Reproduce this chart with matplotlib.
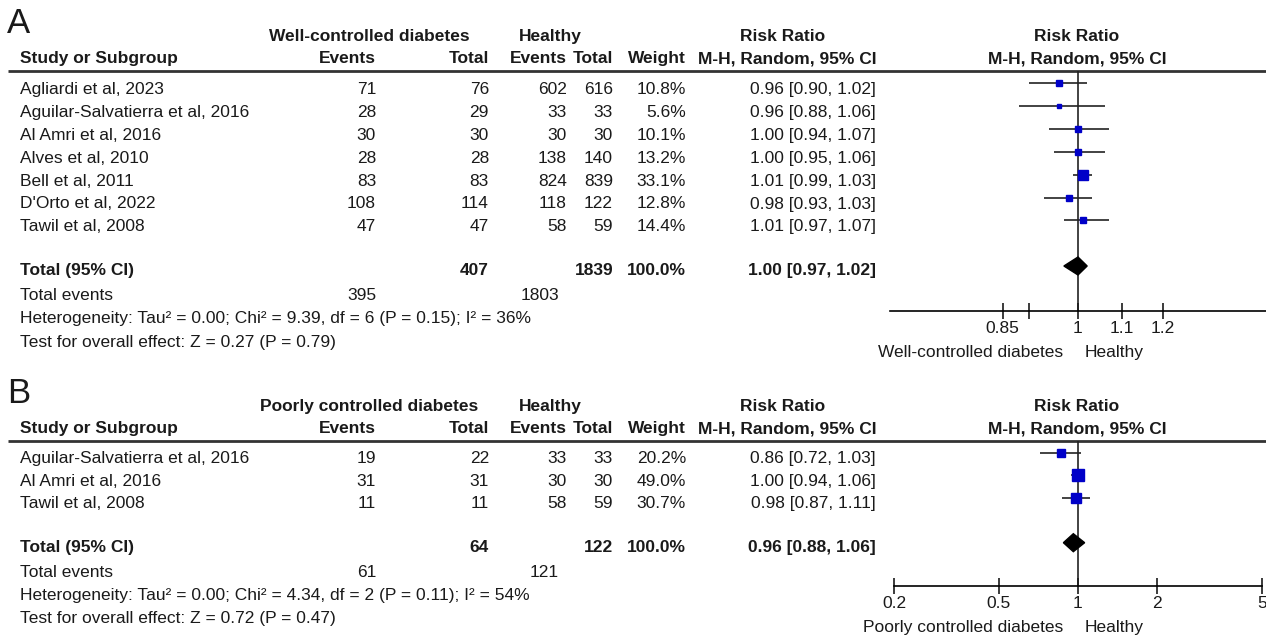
"""Forest plots: well-controlled / poorly controlled diabetes vs healthy (risk ratio)."""
import numpy as np
import matplotlib
matplotlib.use("Agg")
import matplotlib.pyplot as plt
from matplotlib.ticker import FixedLocator, FixedFormatter, NullLocator

plt.rcParams["font.family"] = ["Liberation Sans", "DejaVu Sans"]
TXT = "#1a1a1a"
BLUE = "#0000c8"
FS = 12.5

# ---------------- data: panel A ----------------
studies_a = ["Agliardi et al, 2023", "Aguilar-Salvatierra et al, 2016", "Al Amri et al, 2016",
             "Alves et al, 2010", "Bell et al, 2011", "D'Orto et al, 2022", "Tawil et al, 2008"]
ev1_a = [71, 28, 30, 28, 83, 108, 47]
tot1_a = [76, 29, 30, 28, 83, 114, 47]
ev2_a = [602, 33, 30, 138, 824, 118, 58]
tot2_a = [616, 33, 30, 140, 839, 122, 59]
weight_a = [10.8, 5.6, 10.1, 13.2, 33.1, 12.8, 14.4]
rr_a = [0.96, 0.96, 1.00, 1.00, 1.01, 0.98, 1.01]
lo_a = [0.90, 0.88, 0.94, 0.95, 0.99, 0.93, 0.97]
hi_a = [1.02, 1.06, 1.07, 1.06, 1.03, 1.03, 1.07]
total_a = (407, 1839, 395, 1803, 1.00, 0.97, 1.02)
het_a = "Heterogeneity: Tau² = 0.00; Chi² = 9.39, df = 6 (P = 0.15); I² = 36%"
test_a = "Test for overall effect: Z = 0.27 (P = 0.79)"
ticks_a = [0.85, 0.9, 1, 1.1, 1.2]
ticklabels_a = ["0.85", "", "1", "1.1", "1.2"]

# ---------------- data: panel B ----------------
studies_b = ["Aguilar-Salvatierra et al, 2016", "Al Amri et al, 2016", "Tawil et al, 2008"]
ev1_b = [19, 31, 11]
tot1_b = [22, 31, 11]
ev2_b = [33, 30, 58]
tot2_b = [33, 30, 59]
weight_b = [20.2, 49.0, 30.7]
rr_b = [0.86, 1.00, 0.98]
lo_b = [0.72, 0.94, 0.87]
hi_b = [1.03, 1.06, 1.11]
total_b = (64, 122, 61, 121, 0.96, 0.88, 1.06)
het_b = "Heterogeneity: Tau² = 0.00; Chi² = 4.34, df = 2 (P = 0.11); I² = 54%"
test_b = "Test for overall effect: Z = 0.72 (P = 0.47)"
ticks_b = [0.2, 0.5, 1, 2, 5]
ticklabels_b = ["0.2", "0.5", "1", "2", "5"]

W, H = 1266, 635
fig = plt.figure(figsize=(W / 100, H / 100), dpi=100)
tab = fig.add_axes([0, 0, 1, 1])
tab.set_xlim(0, W); tab.set_ylim(H, 0); tab.axis("off")

# column right edges (pixels)
C_EV1, C_TOT1, C_EV2, C_TOT2, C_W, C_CI = 376, 489, 567, 613, 686, 876


def t(x, y, s, ha="left", bold=False, size=FS):
    # y is the text baseline in pixels
    tab.text(x, y, s, ha=ha, va="baseline", fontsize=size, color=TXT,
             fontweight="bold" if bold else "normal")


def panel(letter, line_y, group, studies, ev1, tot1, ev2, tot2, weight, rr, lo, hi, total,
          het, test, row0, dy, mk_off, y_tot, ax_rect, xlim, ticks, ticklabels, left_lab):
    # headers
    t(7, line_y - 38, letter, size=25)
    t(369, line_y - 30, group, ha="center", bold=True)
    t(550, line_y - 30, "Healthy", ha="center", bold=True)
    t(783, line_y - 30, "Risk Ratio", ha="center", bold=True)
    t(1077, line_y - 30, "Risk Ratio", ha="center", bold=True)
    h2 = line_y - 8
    t(20, h2, "Study or Subgroup", bold=True)
    t(C_EV1, h2, "Events", ha="right", bold=True)
    t(C_TOT1, h2, "Total", ha="right", bold=True)
    t(C_EV2, h2, "Events", ha="right", bold=True)
    t(C_TOT2, h2, "Total", ha="right", bold=True)
    t(C_W, h2, "Weight", ha="right", bold=True)
    t(C_CI, h2, "M-H, Random, 95% CI", ha="right", bold=True)
    t(1077, h2, "M-H, Random, 95% CI", ha="center", bold=True)
    tab.plot([8, W], [line_y, line_y], color="#333333", lw=2.0, solid_capstyle="butt")

    ys = [row0 + dy * i for i in range(len(studies))]
    for i, y in enumerate(ys):
        t(20, y, studies[i])
        t(C_EV1, y, str(ev1[i]), ha="right")
        t(C_TOT1, y, str(tot1[i]), ha="right")
        t(C_EV2, y, str(ev2[i]), ha="right")
        t(C_TOT2, y, str(tot2[i]), ha="right")
        t(C_W, y, f"{weight[i]:.1f}%", ha="right")
        t(C_CI, y, f"{rr[i]:.2f} [{lo[i]:.2f}, {hi[i]:.2f}]", ha="right")

    n1, n2, e1, e2, trr, tlo, thi = total
    t(20, y_tot, "Total (95% CI)", bold=True)
    t(C_TOT1, y_tot, str(n1), ha="right", bold=True)
    t(C_TOT2, y_tot, str(n2), ha="right", bold=True)
    t(C_W, y_tot, "100.0%", ha="right", bold=True)
    t(C_CI, y_tot, f"{trr:.2f} [{tlo:.2f}, {thi:.2f}]", ha="right", bold=True)
    t(20, y_tot + 25, "Total events")
    t(C_EV1, y_tot + 25, str(e1), ha="right")
    t(C_EV2 - 8, y_tot + 25, str(e2), ha="right")
    t(20, y_tot + 48, het)
    t(20, y_tot + 71.5, test)

    # forest plot, y in pixel rows
    x0, x1, ytop, ybot = ax_rect
    ax = fig.add_axes([x0 / W, 1 - ybot / H, (x1 - x0) / W, (ybot - ytop) / H])
    ax.set_xscale("log")
    ax.set_xlim(*xlim)
    ax.set_ylim(ybot, ytop)
    ax.set_facecolor("none")
    for sp in ["top", "left", "right"]:
        ax.spines[sp].set_visible(False)
    ax.spines["bottom"].set_linewidth(1.2)
    ax.axvline(1, color="#222222", lw=1.2, zorder=1)
    ym = [y - mk_off for y in ys]
    ax.hlines(ym, lo, hi, color="#222222", lw=1.2, zorder=2)
    for y, r, w in zip(ym, rr, weight):
        ax.plot([r], [y], marker="s", ms=1.3 * np.sqrt(w), color=BLUE, mec=BLUE, zorder=3)
    yd = y_tot - 9
    ax.fill([tlo, trr, thi, trr], [yd, yd - 9, yd, yd + 9], color="black", zorder=4)
    ax.yaxis.set_major_locator(NullLocator())
    ax.xaxis.set_major_locator(FixedLocator(ticks))
    ax.xaxis.set_major_formatter(FixedFormatter(ticklabels))
    ax.xaxis.set_minor_locator(NullLocator())
    ax.tick_params(axis="x", direction="inout", length=12, width=1.2, labelsize=FS,
                   colors=TXT, pad=1)
    lab_y = ybot + 46
    t(1063, lab_y, left_lab, ha="right")
    t(1085, lab_y, "Healthy")
    return ax


panel("A", 71, "Well-controlled diabetes", studies_a, ev1_a, tot1_a, ev2_a, tot2_a, weight_a,
      rr_a, lo_a, hi_a, total_a, het_a, test_a, 94, 22.9, 11, 275,
      (890, W, 71, 311), (1 / 1.5, 1.5), ticks_a, ticklabels_a, "Well-controlled diabetes")
panel("B", 441, "Poorly controlled diabetes", studies_b, ev1_b, tot1_b, ev2_b, tot2_b, weight_b,
      rr_b, lo_b, hi_b, total_b, het_b, test_b, 463.3, 22.5, 10.5, 551.7,
      (894, 1262, 441, 586), (0.2, 5), ticks_b, ticklabels_b, "Poorly controlled diabetes")

fig.savefig("out.png", dpi=100)
